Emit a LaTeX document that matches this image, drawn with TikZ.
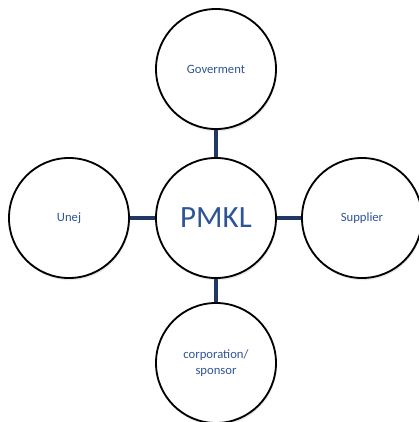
\documentclass[tikz,border=0pt]{standalone}
\usepackage{fontspec}
\setmainfont{Carlito}
\usepackage{xcolor}
\usetikzlibrary{shadows}

\definecolor{labelblue}{RGB}{47,84,150}
\definecolor{linknavy}{RGB}{31,56,100}

\begin{document}
\begin{tikzpicture}[
        x=0.025cm, y=-0.025cm,
        party/.style={circle, draw=black, line width=1.3pt, fill=white, minimum size=3cm,
            text=labelblue, font=\fontsize{9}{11}\selectfont, align=center,
            drop shadow={opacity=0.18, shadow xshift=0.6pt, shadow yshift=-1.6pt}},
        hub/.style={party, font=\fontsize{22}{26}\selectfont},
        link/.style={line width=2.8pt, draw=linknavy}
    ]
        \useasboundingbox (0,0) rectangle (419,422);

        % Centre
        \node[hub] (pmkl) at (216,218) {PMKL};

        % Stakeholders
        \node[party] (gov) at (216,69) {Goverment};
        \node[party] (unej) at (69,218) {Unej};
        \node[party] (supplier) at (362,218) {Supplier};
        \node[party] (sponsor) at (216,363) {corporation/\\sponsor};

        % Links to the centre
        \draw[link] (pmkl) -- (gov);
        \draw[link] (pmkl) -- (unej);
        \draw[link] (pmkl) -- (supplier);
        \draw[link] (pmkl) -- (sponsor);
    \end{tikzpicture}
\end{document}
